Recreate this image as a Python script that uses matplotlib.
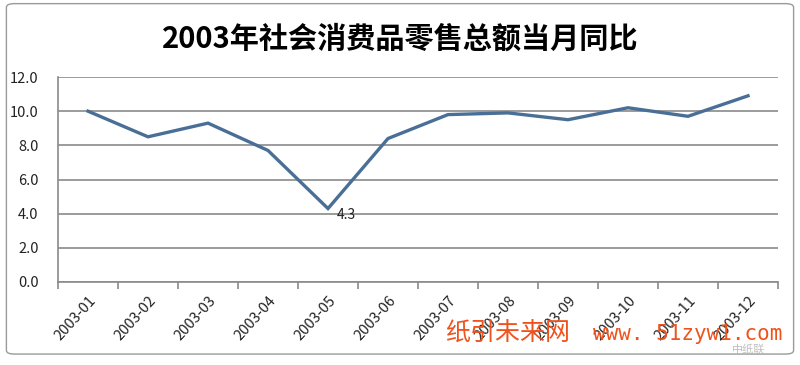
import matplotlib.pyplot as plt
from matplotlib.patches import FancyBboxPatch

plt.rcParams['font.family'] = ['Noto Sans CJK SC', 'DejaVu Sans']

# --- Données ---
months = ["2003-01", "2003-02", "2003-03", "2003-04", "2003-05", "2003-06",
          "2003-07", "2003-08", "2003-09", "2003-10", "2003-11", "2003-12"]
yoy = [10.0, 8.5, 9.3, 7.7, 4.3, 8.4, 9.8, 9.9, 9.5, 10.2, 9.7, 10.9]
y_ticks = [0, 2, 4, 6, 8, 10, 12]
title = "2003年社会消费品零售总额当月同比"

fig = plt.figure(figsize=(8, 3.65), dpi=100)

# cadre du graphique
frame = FancyBboxPatch((0.008, 0.03), 0.984, 0.96, boxstyle="round,pad=0,rounding_size=0.01",
                       transform=fig.transFigure, fill=False, edgecolor="#9a9a9a", linewidth=1.0)
fig.patches.append(frame)

ax = fig.add_axes([0.0725, 0.2274, 0.9, 0.5616])
x = list(range(len(months)))
ax.plot(x, yoy, color="#4a6f96", linewidth=2.4, solid_joinstyle="miter")

ax.set_xlim(-0.5, len(months) - 0.5)
ax.set_ylim(0, 12)
ax.set_yticks(y_ticks)
ax.set_yticklabels([f"{v:.1f}" for v in y_ticks], fontsize=10.5, color="#222222")
ax.yaxis.grid(True, color="#8a8a8a", linewidth=1.2)
ax.set_axisbelow(True)
ax.tick_params(axis="y", length=0, pad=14)

# graduations entre catégories
ax.set_xticks([i - 0.5 for i in range(len(months) + 1)], minor=False)
ax.set_xticklabels([])
ax.tick_params(axis="x", which="major", length=5, color="#8a8a8a", width=1.2)
ax.set_xticks(x, minor=True)
ax.set_xticklabels(months, minor=True, rotation=48, ha="right", rotation_mode="anchor",
                   fontsize=10.5, color="#222222")
ax.tick_params(axis="x", which="minor", length=0, pad=8)

for side in ["top", "right"]:
    ax.spines[side].set_visible(False)
ax.spines["left"].set_color("#8a8a8a")
ax.spines["bottom"].set_color("#8a8a8a")
ax.spines["left"].set_linewidth(1.2)
ax.spines["bottom"].set_linewidth(1.2)

ax.annotate(f"{yoy[4]:.1f}", (4, yoy[4]), xytext=(6, -5), textcoords="offset points",
            fontsize=10, color="#222222", va="center")

fig.text(0.5, 0.895, title, ha="center", va="center", fontsize=21, fontweight="bold")

# filigrane
fig.text(0.556, 0.085, "纸引未来网", fontsize=18, color="#f0521c", ha="left", va="center")
fig.text(0.741, 0.085, "www. 51zyw1.com", fontsize=15, color="#f0521c", ha="left", va="center",
         family=["DejaVu Sans Mono", "Noto Sans CJK SC"])
fig.text(0.915, 0.043, "中纸联", fontsize=8, color="#b0b0b0", ha="left", va="center", alpha=0.8)

fig.savefig("out.png", dpi=100)
